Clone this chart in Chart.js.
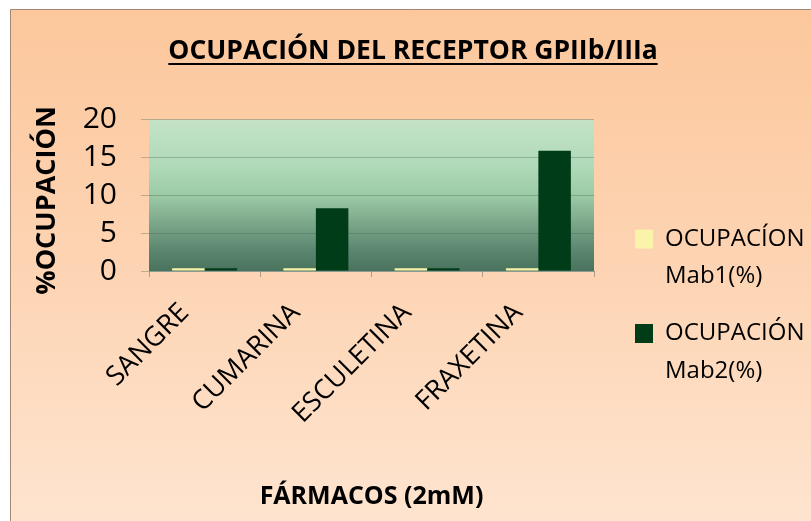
<!DOCTYPE html>
<html>
<head>
<meta charset="utf-8">
<script src="https://cdn.jsdelivr.net/npm/chart.js@4"></script>
<style>
  html, body { margin: 0; padding: 0; background: #fff; }
  #wrap { width: 811px; height: 521px; position: relative; }
</style>
</head>
<body>
<div id="wrap"><canvas id="chart"></canvas></div>
<script>
const categories = ['SANGRE', 'CUMARINA', 'ESCULETINA', 'FRAXETINA'];
const mab1Values = [0.35, 0.35, 0.35, 0.35];
const mab2Values = [0.35, 8.3, 0.35, 15.9];
const seriesLabels = ['OCUPACÍON\nMab1(%)', 'OCUPACIÓN\nMab2(%)'];
const yTicks = [0, 5, 10, 15, 20];

const chartTitle = 'OCUPACIÓN DEL RECEPTOR GPIIb/IIIa';
const yTitle = '%OCUPACIÓN';
const FONT = "'Open Sans', sans-serif";
const TITLE_SIZE = 26.5;

Chart.defaults.font.family = FONT;
Chart.defaults.color = '#000';

// page + plot area backgrounds
const backdrop = {
    id: 'backdrop',
    beforeDraw(chart) {
        const ctx = chart.ctx;
        const W = chart.width, H = chart.height;
        ctx.save();
        ctx.fillStyle = '#fff';
        ctx.fillRect(0, 0, W, H);
        const bg = ctx.createLinearGradient(0, 9, 0, H);
        bg.addColorStop(0, '#fcc79c');
        bg.addColorStop(0.5, '#fdd4b3');
        bg.addColorStop(1, '#fee4cf');
        ctx.fillStyle = bg;
        ctx.fillRect(10, 9, W - 10, H - 9);
        ctx.strokeStyle = '#a68773';
        ctx.lineWidth = 1;
        ctx.beginPath();
        ctx.moveTo(10.5, H);
        ctx.lineTo(10.5, 9.5);
        ctx.lineTo(W, 9.5);
        ctx.stroke();

        const a = chart.chartArea;
        const g = ctx.createLinearGradient(0, a.top, 0, a.bottom);
        g.addColorStop(0, '#c4e3c7');
        g.addColorStop(0.3, '#b0dab9');
        g.addColorStop(0.5, '#9ccaa6');
        g.addColorStop(0.67, '#7fa98c');
        g.addColorStop(0.86, '#5c8670');
        g.addColorStop(1, '#4a735e');
        ctx.fillStyle = g;
        ctx.fillRect(a.left, a.top, a.right - a.left, a.bottom - a.top);
        ctx.restore();
    }
};

// legend column: fixed width, moved down a bit
const legendPlace = {
    id: 'legendPlace',
    beforeLayout(chart) {
        const lg = chart.legend;
        if (!lg || lg._fixedWidth) return;
        const fit = lg.fit.bind(lg);
        lg.fit = function () {
            fit();
            this.width = 196;
        };
        lg._fixedWidth = true;
    },
    afterLayout(chart) {
        const lg = chart.legend;
        if (!lg) return;
        lg.top += 51;
        lg.bottom += 51;
    }
};

// title underline + rotated y title (scale title would be squeezed to the axis height)
const extraText = {
    id: 'extraText',
    afterDraw(chart) {
        const ctx = chart.ctx;
        ctx.save();
        const t = chart.titleBlock;
        if (t) {
            ctx.font = 'bold ' + TITLE_SIZE + 'px ' + FONT;
            const w = ctx.measureText(chartTitle).width;
            const cx = (t.left + t.right) / 2;
            const y = t.top + 36 + TITLE_SIZE * 0.6 + 12;
            ctx.strokeStyle = '#000';
            ctx.lineWidth = 2;
            ctx.beginPath();
            ctx.moveTo(cx - w / 2, y);
            ctx.lineTo(cx + w / 2, y);
            ctx.stroke();
        }
        const ys = chart.scales.y;
        ctx.translate(ys.left + 32, (ys.top + ys.bottom) / 2 + 5);
        ctx.rotate(-Math.PI / 2);
        ctx.font = 'bold 27px ' + FONT;
        ctx.fillStyle = '#000';
        ctx.textAlign = 'center';
        ctx.textBaseline = 'middle';
        ctx.fillText(yTitle, 0, 0);
        ctx.restore();
    }
};

new Chart(document.getElementById('chart'), {
    type: 'bar',
    data: {
        labels: categories,
        datasets: [{
            label: seriesLabels[0],
            data: mab1Values,
            backgroundColor: '#faf3aa',
            borderWidth: 0
        }, {
            label: seriesLabels[1],
            data: mab2Values,
            backgroundColor: '#003c18',
            borderWidth: 0
        }]
    },
    options: {
        responsive: true,
        maintainAspectRatio: false,
        animation: false,
        layout: { padding: { left: 15, right: 0, top: 0, bottom: 0 } },
        datasets: {
            bar: { categoryPercentage: 0.584, barPercentage: 1 }
        },
        scales: {
            x: {
                grid: {
                    drawOnChartArea: false,
                    drawTicks: true,
                    tickLength: 6,
                    offset: true,
                    color: 'rgba(120,120,110,0.6)'
                },
                border: { display: true, color: '#8d9a8f' },
                ticks: {
                    minRotation: 45,
                    maxRotation: 45,
                    padding: 20,
                    labelOffset: -20,
                    font: { size: 27 },
                    color: '#000'
                },
                title: {
                    display: true,
                    text: 'FÁRMACOS (2mM)',
                    font: { size: 25, weight: 'bold' },
                    color: '#000',
                    padding: { top: 0, bottom: 9 }
                },
                afterFit(s) { s.height = 250; }
            },
            y: {
                min: 0,
                max: 20,
                grid: {
                    color: 'rgba(70,100,80,0.35)',
                    tickLength: 8
                },
                border: { display: false },
                ticks: {
                    padding: 24,
                    autoSkip: false,
                    font: { size: 30 },
                    color: '#000'
                },
                afterBuildTicks(s) { s.ticks = yTicks.map(v => ({ value: v })); },
                afterFit(s) { s.width = 134; }
            },
            gap: {
                type: 'linear',
                position: 'right',
                grid: { display: false },
                border: { display: false },
                ticks: { display: false },
                afterFit(s) { s.width = 21; }
            }
        },
        plugins: {
            title: {
                display: true,
                text: chartTitle,
                font: { size: TITLE_SIZE, weight: 'bold' },
                color: '#000',
                padding: { top: 36, bottom: 52 }
            },
            legend: {
                position: 'right',
                align: 'center',
                labels: {
                    boxWidth: 18,
                    boxHeight: 19,
                    padding: 20,
                    color: '#000',
                    font: { size: 24, lineHeight: 1.55 },
                    generateLabels(chart) {
                        const items = Chart.defaults.plugins.legend.labels.generateLabels(chart);
                        items.forEach(it => { it.text = it.text.split('\n'); });
                        return items;
                    }
                }
            },
            tooltip: { enabled: false }
        }
    },
    plugins: [backdrop, legendPlace, extraText]
});
</script>
</body>
</html>
